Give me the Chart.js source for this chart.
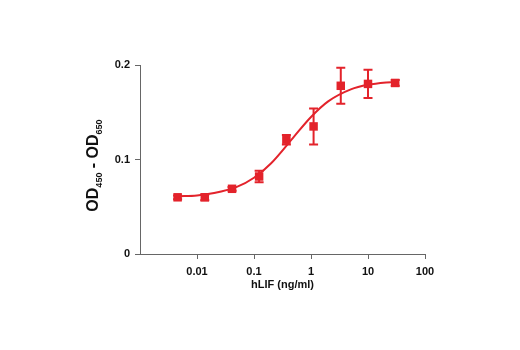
<!DOCTYPE html>
<html lang="en">
<head>
  <meta charset="UTF-8">
  <title>hLIF dose response</title>
  <script src="https://cdn.jsdelivr.net/npm/chart.js"></script>
  <style>
    body { margin: 0; background: #fff; }
    #wrap { width: 520px; height: 350px; }
  </style>
</head>
<body>
  <div id="wrap"><canvas id="chart" width="520" height="350"></canvas></div>
  <script>
    // measured points (3-fold dilutions of hLIF)
    const doses = [0.00457, 0.0137, 0.0412, 0.123, 0.37, 1.11, 3.33, 10, 30];
    const odMeans = [0.060, 0.060, 0.069, 0.082, 0.121, 0.135, 0.178, 0.180, 0.181];
    const odErrors = [0.002, 0.003, 0.002, 0.006, 0.005, 0.019, 0.019, 0.015, 0.003];

    // fitted curve
    const curveX = [0.00457, 0.01, 0.02, 0.05, 0.1, 0.2, 0.5, 1, 2, 5, 10, 30];
    const curveY = [0.061, 0.062, 0.0645, 0.071, 0.0807, 0.0961, 0.124, 0.145, 0.1615, 0.1742, 0.179, 0.1824];

    const xTicks = [0.01, 0.1, 1, 10, 100];
    const yTicks = [0, 0.1, 0.2];

    const red = '#e3232b';
    const axisColor = '#666';
    const fontFamily = "'Liberation Sans Narrow', 'Liberation Sans', Arial, sans-serif";

    // error bars with caps
    const errorBars = {
      id: 'errorBars',
      afterDatasetsDraw(chart) {
        const { ctx, scales: { x, y } } = chart;
        ctx.save();
        ctx.strokeStyle = red;
        ctx.lineWidth = 2;
        doses.forEach((d, i) => {
          const px = x.getPixelForValue(d);
          const top = y.getPixelForValue(odMeans[i] + odErrors[i]);
          const bot = y.getPixelForValue(odMeans[i] - odErrors[i]);
          ctx.beginPath();
          ctx.moveTo(px, top); ctx.lineTo(px, bot);
          ctx.moveTo(px - 4.5, top); ctx.lineTo(px + 4.5, top);
          ctx.moveTo(px - 4.5, bot); ctx.lineTo(px + 4.5, bot);
          ctx.stroke();
        });
        ctx.restore();
      }
    };

    // y title with subscripts
    const yTitle = {
      id: 'yTitle',
      afterDraw(chart) {
        const { ctx, chartArea } = chart;
        const parts = [['OD', false], ['450', true], [' - OD', false], ['650', true]];
        const big = "bold 16px " + fontFamily;
        const small = "bold 9px " + fontFamily;
        ctx.save();
        let total = 0;
        parts.forEach(([t, sub]) => { ctx.font = sub ? small : big; total += ctx.measureText(t).width; });
        ctx.translate(94, (chartArea.top + chartArea.bottom) / 2 + 6);
        ctx.rotate(-Math.PI / 2);
        ctx.fillStyle = '#111';
        ctx.textBaseline = 'middle';
        let pos = -total / 2;
        parts.forEach(([t, sub]) => {
          ctx.font = sub ? small : big;
          ctx.fillText(t, pos, sub ? 6 : 0);
          pos += ctx.measureText(t).width;
        });
        ctx.restore();
      }
    };

    new Chart(document.getElementById('chart'), {
      data: {
        datasets: [
          {
            type: 'line',
            data: curveX.map((v, i) => ({ x: v, y: curveY[i] })),
            borderColor: red,
            borderWidth: 2,
            pointRadius: 0,
            cubicInterpolationMode: 'monotone',
            fill: false
          },
          {
            type: 'scatter',
            data: doses.map((v, i) => ({ x: v, y: odMeans[i] })),
            backgroundColor: red,
            borderColor: red,
            pointStyle: 'rect',
            pointRadius: 6,
            borderWidth: 0
          }
        ]
      },
      options: {
        responsive: false,
        animation: false,
        layout: { padding: { left: 0, right: 95, top: 65, bottom: 54 } },
        plugins: { legend: { display: false }, tooltip: { enabled: false } },
        scales: {
          x: {
            type: 'logarithmic',
            min: 0.001,
            max: 100,
            afterBuildTicks: s => { s.ticks = xTicks.map(v => ({ value: v })); },
            afterFit: s => { s.height = 42; },
            grid: { drawOnChartArea: false, drawTicks: true, tickLength: 5, color: axisColor },
            border: { display: true, color: axisColor, width: 1 },
            ticks: {
              autoSkip: false,
              maxRotation: 0,
              padding: 6,
              color: '#111',
              font: { family: fontFamily, size: 11, weight: 'bold' },
              callback: v => String(v)
            },
            title: {
              display: true,
              text: 'hLIF (ng/ml)',
              color: '#111',
              padding: { top: 4 },
              font: { family: fontFamily, size: 11, weight: 'bold' }
            }
          },
          y: {
            min: 0,
            max: 0.2,
            afterBuildTicks: s => { s.ticks = yTicks.map(v => ({ value: v })); },
            afterFit: s => { s.width = 140; },
            grid: { drawOnChartArea: false, drawTicks: true, tickLength: 5, color: axisColor },
            border: { display: true, color: axisColor, width: 1 },
            ticks: {
              padding: 5,
              color: '#111',
              font: { family: fontFamily, size: 11, weight: 'bold' },
              callback: v => String(v)
            }
          }
        }
      },
      plugins: [errorBars, yTitle]
    });
  </script>
</body>
</html>
